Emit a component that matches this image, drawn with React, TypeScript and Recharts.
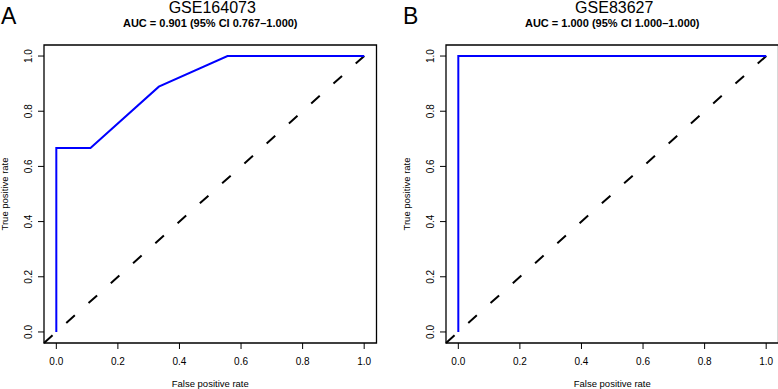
import { LineChart, Line, XAxis, YAxis, ReferenceLine, ReferenceArea } from "recharts";

const FONT = '"Liberation Sans", Arial, Helvetica, sans-serif';

// ROC curve points for each dataset
const fprA = [0, 0, 0.111, 0.333, 0.556, 1];
const tprA = [0, 0.667, 0.667, 0.889, 1, 1];

const fprB = [0, 0, 1];
const tprB = [0, 1, 1];

const axisTicks = [0, 0.2, 0.4, 0.6, 0.8, 1];

const panels = [
  { letter: "A", title: "GSE164073", auc: "AUC = 0.901 (95% CI 0.767\u20131.000)", fpr: fprA, tpr: tprA },
  { letter: "B", title: "GSE83627", auc: "AUC = 1.000 (95% CI 1.000\u20131.000)", fpr: fprB, tpr: tprB },
];

const PAD = 0.04;
const LO = -PAD;
const HI = 1 + PAD;

const W = 390;
const H = 389;
const PLOT_LEFT = 44;
const PLOT_TOP = 45;
const PLOT_RIGHT = 13.5;
const XAXIS_H = 46;

const YTick = (props: any) => {
  const { x, y, payload } = props;
  const bx = x - 4;
  return (
    <text
      x={bx}
      y={y}
      transform={`rotate(-90 ${bx} ${y})`}
      textAnchor="middle"
      fontSize={10}
      fill="#000"
      fontFamily={FONT}
    >
      {Number(payload.value).toFixed(1)}
    </text>
  );
};

const RocPanel = ({ panel }: { panel: (typeof panels)[number] }) => {
  const data = panel.fpr.map((f, i) => ({ fpr: f, tpr: panel.tpr[i] }));
  const centerX = PLOT_LEFT + (W - PLOT_LEFT - PLOT_RIGHT) / 2;

  return (
    <div style={{ position: "relative", width: W, height: H }}>
      <LineChart
        width={W}
        height={H}
        data={data}
        margin={{ top: PLOT_TOP, right: PLOT_RIGHT, left: 0, bottom: 0 }}
        style={{ fontFamily: FONT }}
      >
        <XAxis
          type="number"
          dataKey="fpr"
          domain={[LO, HI]}
          ticks={axisTicks}
          allowDataOverflow
          axisLine={false}
          tickLine={{ stroke: "#000", strokeWidth: 1 }}
          tickSize={6}
          tickMargin={8.5}
          height={XAXIS_H}
          tick={{ fontSize: 10, fill: "#000", fontFamily: FONT }}
          tickFormatter={(v: number) => v.toFixed(1)}
          label={({ viewBox }: any) => (
            <text
              x={viewBox.x + viewBox.width / 2}
              y={viewBox.y + 43.5}
              textAnchor="middle"
              fontSize={9.5}
              fill="#000"
              fontFamily={FONT}
            >
              False positive rate
            </text>
          )}
        />
        <YAxis
          type="number"
          dataKey="tpr"
          domain={[LO, HI]}
          ticks={axisTicks}
          allowDataOverflow
          axisLine={false}
          tickLine={{ stroke: "#000", strokeWidth: 1 }}
          tickSize={6}
          width={PLOT_LEFT}
          tick={<YTick />}
          label={({ viewBox }: any) => {
            const cy = viewBox.y + viewBox.height / 2;
            return (
              <text
                x={7.5}
                y={cy}
                transform={`rotate(-90 7.5 ${cy})`}
                textAnchor="middle"
                fontSize={9.5}
                fill="#000"
                fontFamily={FONT}
              >
                True positive rate
              </text>
            );
          }}
        />
        <ReferenceArea
          x1={LO}
          x2={HI}
          y1={LO}
          y2={HI}
          fill="none"
          fillOpacity={0}
          stroke="#000"
          strokeWidth={1.3}
        />
        <ReferenceLine
          segment={[
            { x: LO, y: LO },
            { x: HI, y: HI },
          ]}
          stroke="#000"
          strokeWidth={2}
          strokeDasharray="11.5 18.4"
        />
        <Line
          type="linear"
          dataKey="tpr"
          stroke="#0000ff"
          strokeWidth={2}
          dot={false}
          isAnimationActive={false}
        />
      </LineChart>
      <svg
        width={W}
        height={50}
        style={{ position: "absolute", left: 0, top: 0, pointerEvents: "none" }}
      >
        <text x={1} y={24} fontSize={23} fill="#000" fontFamily={FONT}>
          {panel.letter}
        </text>
        <text x={centerX + 2} y={12.7} textAnchor="middle" fontSize={16} fill="#000" fontFamily={FONT}>
          {panel.title}
        </text>
        <text
          x={centerX}
          y={26.7}
          textAnchor="middle"
          fontSize={11}
          fontWeight="bold"
          fill="#000"
          fontFamily={FONT}
        >
          {panel.auc}
        </text>
      </svg>
    </div>
  );
};

export default function App() {
  return (
    <div
      style={{
        position: "absolute",
        left: 0,
        top: 0,
        width: 778,
        height: 389,
        overflow: "hidden",
        background: "#fff",
      }}
    >
      <div style={{ position: "absolute", left: 0, top: 0 }}>
        <RocPanel panel={panels[0]} />
      </div>
      <div style={{ position: "absolute", left: 401.5, top: 0 }}>
        <RocPanel panel={panels[1]} />
      </div>
    </div>
  );
}
